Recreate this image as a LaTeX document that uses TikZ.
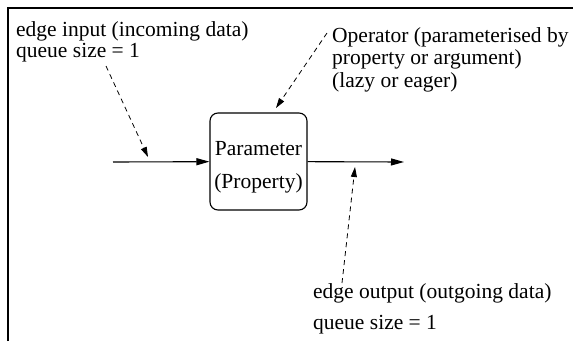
\documentclass[tikz,border=0pt]{standalone}
\usepackage{fontspec}
\setmainfont{Liberation Serif}
\usepackage{tikz}
\usetikzlibrary{arrows.meta}

\begin{document}
\begin{tikzpicture}[x=1pt,y=-1pt,
  txt/.style={font=\fontsize{21.5}{21}\selectfont,inner sep=0pt,align=left,anchor=base west},
  param/.style={draw,line width=1.1pt,rounded corners=8pt,minimum width=97pt,minimum height=97pt,inner sep=0pt},
  boxtxt/.style={inner sep=0pt,align=center,font=\fontsize{21.5}{21.5}\selectfont},
  flow/.style={line width=1.1pt,-{Triangle[length=13pt,width=7pt]}},
  hint/.style={line width=0.8pt,dash pattern=on 5pt off 4pt,-{Triangle[length=10pt,width=6pt]}}]
\useasboundingbox (0,0) rectangle (573,341);
% frame
\draw[line width=2pt] (8,341) -- (8,8) -- (573,8);
% operator
\node[param] (op) at (258.5,161.5) {};
\node[boxtxt] (optxt) at ([yshift=-6pt]op.center) {Parameter\\[11pt](Property)};
\coordinate (src) at (113,162);
\coordinate (snk) at (404,162);
\draw[flow] (src) -- (op);
\draw[flow] (op) -- (snk);
% labels (base = last line)
\node[txt] (inlbl) at (16,57) {edge input (incoming data)\\queue size = 1};
\node[txt,font=\fontsize{21.5}{22.5}\selectfont] (oplbl) at (332,87) {Operator (parameterised by\\property or argument)\\(lazy or eager)};
\node[txt,font=\fontsize{21.5}{31}\selectfont] (outlbl) at (313,329) {edge output (outgoing data)\\queue size = 1};
% hints
\coordinate (in0) at (106,66);   \coordinate (in1) at (148,157);
\coordinate (op0) at (327,33);   \coordinate (op1) at (276,108);
\coordinate (out0) at (342,283); \coordinate (out1) at (355,167);
\foreach \a/\b in {in0/in1,op0/op1,out0/out1}
  \draw[hint] (\a) -- (\b);
\end{tikzpicture}
\end{document}
